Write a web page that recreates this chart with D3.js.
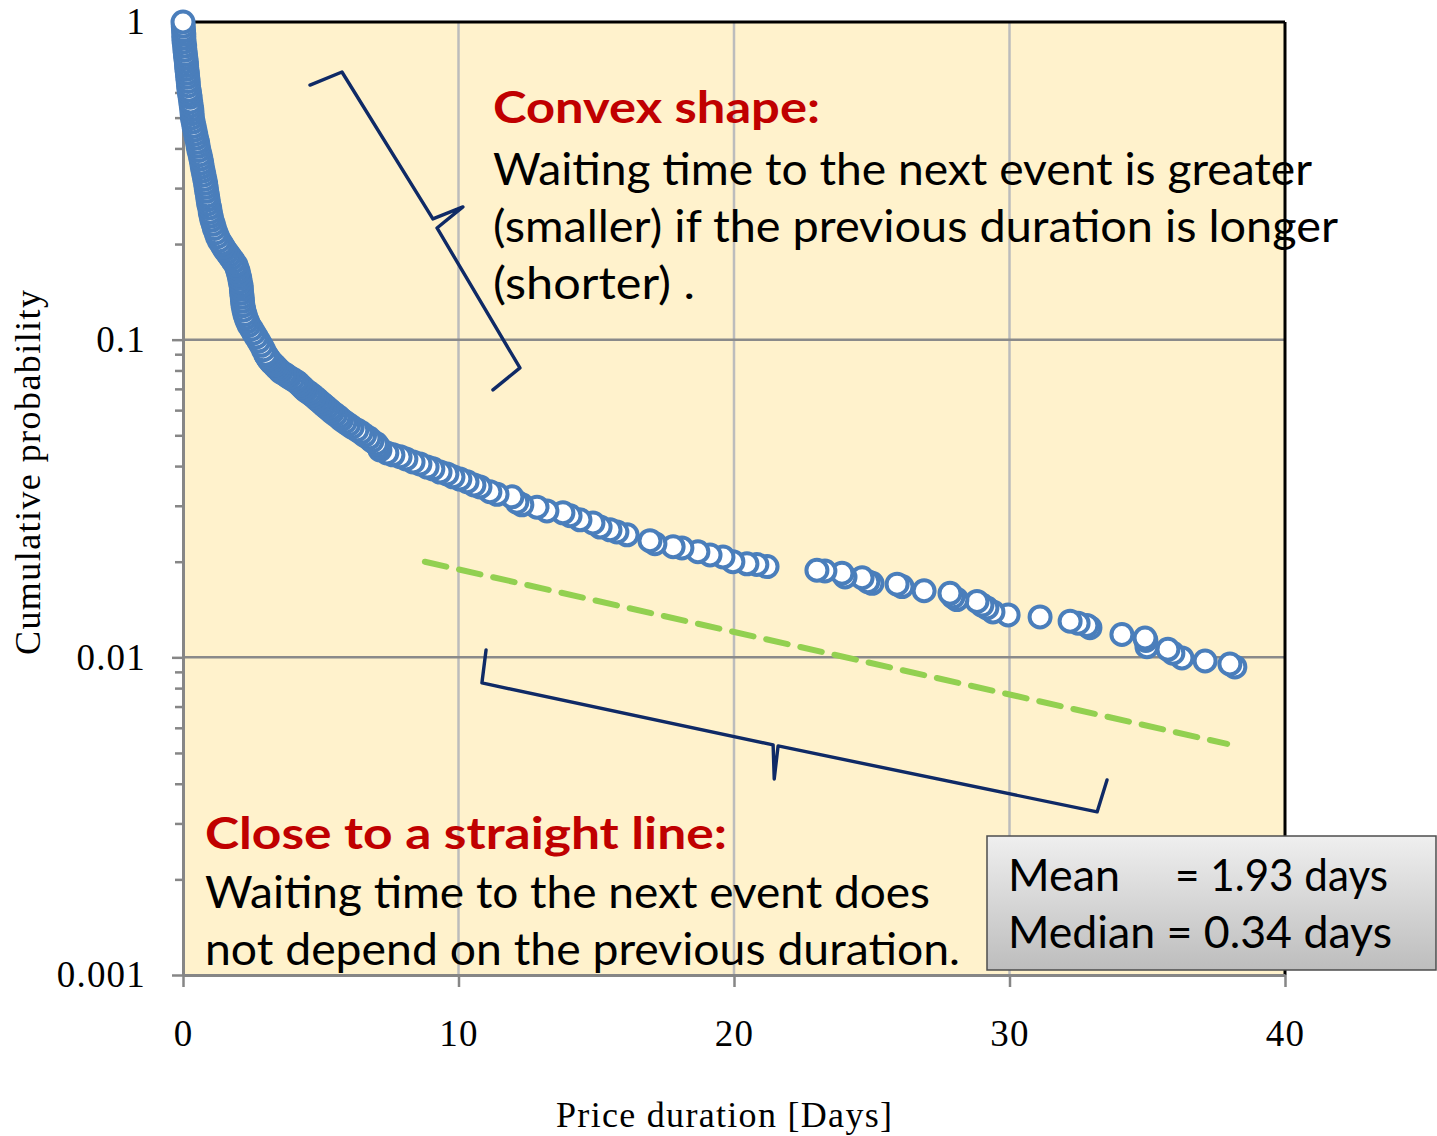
<!DOCTYPE html>
<html><head><meta charset="utf-8">
<script src="https://cdn.jsdelivr.net/npm/d3@7/dist/d3.min.js"></script>
<style>body{margin:0;background:#fff;} svg{display:block;}</style>
</head><body>
<svg id="c" width="1437" height="1136"></svg>
<script>
// ---- data ----
const durations = [
0.00,0.01,0.02,0.03,0.03,0.04,0.06,0.07,0.09,0.10,0.12,0.13,0.14,0.16,0.17,0.19,0.20,0.22,0.24,0.26,
0.28,0.30,0.32,0.33,0.34,0.37,0.40,0.43,0.46,0.49,0.53,0.55,0.58,0.62,0.65,0.68,0.70,0.73,0.76,0.79,
0.82,0.84,0.86,0.89,0.91,0.93,0.97,0.99,1.02,1.05,1.10,1.14,1.20,1.25,1.32,1.40,1.46,1.52,1.60,1.68,
1.76,1.84,1.92,1.96,2.00,2.03,2.06,2.08,2.11,2.12,2.13,2.15,2.16,2.18,2.21,2.25,2.29,2.34,2.40,2.49,
2.57,2.66,2.75,2.84,2.92,3.00,3.03,3.07,3.11,3.15,3.20,3.26,3.32,3.38,3.44,3.50,3.56,3.68,3.77,3.86,
3.98,4.09,4.18,4.25,4.32,4.39,4.47,4.58,4.68,4.77,4.86,4.95,5.04,5.13,5.23,5.33,5.42,5.54,5.66,5.75,
5.88,6.01,6.14,6.31,6.46,6.59,6.75,6.86,7.02,7.10,7.15,7.40,7.62,7.88,8.09,8.35,8.60,8.86,9.07,9.33,
9.58,9.80,10.05,10.31,10.56,10.78,11.14,11.40,11.94,12.12,12.30,12.85,13.21,13.79,14.05,14.41,14.88,15.14,15.50,15.75,
16.12,16.95,17.13,17.79,18.11,18.69,19.13,19.60,19.96,20.47,20.83,21.20,23.01,23.30,23.92,24.03,24.65,24.86,25.01,25.92,
26.10,26.90,27.84,27.95,28.09,28.82,29.00,29.18,29.40,29.95,31.11,32.20,32.49,32.81,32.92,34.08,34.92,34.95,34.99,35.75,
35.93,36.26,37.10,38.00,38.18
];
const probabilities = [
1.000,0.970,0.940,0.915,0.890,0.865,0.840,0.815,0.790,0.770,0.750,0.730,0.710,0.690,0.670,0.650,0.630,0.610,0.595,0.580,
0.560,0.545,0.530,0.515,0.500,0.485,0.470,0.457,0.444,0.431,0.418,0.406,0.394,0.382,0.371,0.360,0.350,0.340,0.330,0.320,
0.311,0.302,0.293,0.284,0.276,0.268,0.260,0.252,0.245,0.238,0.231,0.224,0.217,0.211,0.205,0.200,0.196,0.192,0.188,0.184,
0.180,0.176,0.172,0.168,0.164,0.160,0.156,0.152,0.148,0.144,0.140,0.136,0.132,0.128,0.124,0.120,0.117,0.114,0.111,0.108,
0.105,0.102,0.099,0.096,0.093,0.090,0.089,0.088,0.087,0.086,0.085,0.084,0.083,0.082,0.081,0.080,0.079,0.078,0.077,0.076,
0.075,0.074,0.073,0.072,0.071,0.070,0.069,0.068,0.067,0.066,0.065,0.064,0.063,0.062,0.061,0.060,0.059,0.058,0.057,0.056,
0.055,0.054,0.053,0.052,0.051,0.050,0.049,0.048,0.047,0.046,0.0450,0.0440,0.0434,0.0428,0.0421,0.0412,0.0406,0.0397,0.0392,0.0383,
0.0378,0.0370,0.0364,0.0357,0.0349,0.0344,0.0332,0.0326,0.0320,0.0308,0.0302,0.0297,0.0289,0.0285,0.0279,0.0271,0.0265,0.0257,0.0252,0.0248,
0.0243,0.0233,0.0228,0.0223,0.0221,0.0215,0.0210,0.0207,0.0200,0.0197,0.0196,0.0193,0.0188,0.0187,0.0184,0.0179,0.0178,0.0173,0.0171,0.0170,
0.0167,0.0162,0.0159,0.0155,0.0152,0.0150,0.0146,0.0143,0.0139,0.0136,0.0134,0.0130,0.0128,0.0126,0.0124,0.0118,0.0115,0.0113,0.0108,0.0106,
0.0103,0.00996,0.00974,0.00953,0.00933
];
const xTicks = [0, 10, 20, 30, 40];
const xTickLabels = ["0", "10", "20", "30", "40"];
const yTicks = [1, 0.1, 0.01, 0.001];
const yTickLabels = ["1", "0.1", "0.01", "0.001"];
const xGrid = [10, 20, 30];
const yGrid = [0.1, 0.01];
const refLineDurations = [8.78, 37.9];
const refLineProbs = [0.0200, 0.00534];
const braceUpperDurations = [4.61, 5.77, 9.07, 10.16, 9.22, 12.23, 11.25];
const braceUpperProbs = [0.633, 0.696, 0.240, 0.2617, 0.2247, 0.0815, 0.0695];
const braceLowerDurations = [11.00, 10.85, 21.42, 21.46, 21.60, 33.18, 33.54];
const braceLowerProbs = [0.01055, 0.008306, 0.00530, 0.004142, 0.005261, 0.003262, 0.004113];
const xTitle = "Price duration [Days]";
const yTitle = "Cumulative probability";
const convexTitle = "Convex shape:";
const convexLines = ["Waiting time to the next event is greater", "(smaller) if the previous duration is longer", "(shorter) ."];
const straightTitle = "Close to a straight line:";
const straightLines = ["Waiting time to the next event does", "not depend on the previous duration."];
const statNames = ["Mean", "Median"];
const statValues = ["= 1.93 days", "= 0.34 days"];

// ---- chart ----
const svg = d3.select("#c");
const x = d3.scaleLinear().domain([0, 40]).range([183, 1285]);
const y = d3.scaleLog().domain([0.001, 1]).range([975, 22]);
const serif = "'Liberation Serif','Times New Roman',serif";
const sans = "Lato,'Open Sans',sans-serif";
const axisGray = "#868686";

svg.append("rect").attr("x", x(0)).attr("y", y(1))
  .attr("width", x(40) - x(0)).attr("height", y(0.001) - y(1)).attr("fill", "#fff2cc");

// gridlines
svg.append("g").selectAll("line").data(xGrid).join("line")
  .attr("x1", d => x(d)).attr("x2", d => x(d)).attr("y1", y(1)).attr("y2", y(0.001))
  .attr("stroke", "#bcbcbc").attr("stroke-width", 2.5);
svg.append("g").selectAll("line").data(yGrid).join("line")
  .attr("x1", x(0)).attr("x2", x(40)).attr("y1", d => y(d)).attr("y2", d => y(d))
  .attr("stroke", "#8a8a8a").attr("stroke-width", 2.5);

// top & right border
svg.append("line").attr("x1", x(0)).attr("x2", x(40)).attr("y1", y(1)).attr("y2", y(1))
  .attr("stroke", "#000").attr("stroke-width", 3);
svg.append("line").attr("x1", x(40)).attr("x2", x(40)).attr("y1", y(1)).attr("y2", y(0.001))
  .attr("stroke", "#000").attr("stroke-width", 3);

// minor y ticks
const minors = [];
[0.001, 0.01, 0.1].forEach(dec => { for (let k = 2; k <= 9; k++) minors.push(k * dec); });
const gMinor = svg.append("g").attr("transform", `translate(${x(0)},0)`)
  .call(d3.axisLeft(y).tickValues(minors).tickSize(8).tickFormat(""));
gMinor.select(".domain").remove();
gMinor.selectAll("line").attr("stroke", axisGray).attr("stroke-width", 2.5);

// y axis
const gy = svg.append("g").attr("transform", `translate(${x(0)},0)`)
  .call(d3.axisLeft(y).tickValues(yTicks).tickFormat((d, i) => yTickLabels[i])
    .tickSize(11).tickPadding(26).tickSizeOuter(0));
gy.select(".domain").attr("stroke", axisGray).attr("stroke-width", 3);
gy.selectAll("line").attr("stroke", axisGray).attr("stroke-width", 2.5);
gy.selectAll("text").attr("font-family", serif).attr("font-size", 37)
  .attr("letter-spacing", 1.2).attr("fill", "#000");

// x axis
const gx = svg.append("g").attr("transform", `translate(0,${y(0.001)})`)
  .call(d3.axisBottom(x).tickValues(xTicks).tickFormat((d, i) => xTickLabels[i])
    .tickSize(12).tickPadding(33).tickSizeOuter(0));
gx.select(".domain").attr("stroke", axisGray).attr("stroke-width", 3);
gx.selectAll("line").attr("stroke", axisGray).attr("stroke-width", 2.5);
gx.selectAll("text").attr("font-family", serif).attr("font-size", 37)
  .attr("letter-spacing", 1.2).attr("fill", "#000");

// axis titles
svg.append("text").attr("x", 556).attr("y", 1127)
  .attr("font-family", serif).attr("font-size", 36)
  .attr("textLength", 336).attr("lengthAdjust", "spacing").text(xTitle);
svg.append("text").attr("transform", "translate(40,655) rotate(-90)")
  .attr("font-family", serif).attr("font-size", 36)
  .attr("textLength", 365).attr("lengthAdjust", "spacing").text(yTitle);

// reference dashed line
const refPts = refLineDurations.map((d, i) => [d, refLineProbs[i]]);
svg.append("path").datum(refPts)
  .attr("d", d3.line().x(d => x(d[0])).y(d => y(d[1])))
  .attr("fill", "none").attr("stroke", "#92d050").attr("stroke-width", 6)
  .attr("stroke-dasharray", "22,13").attr("stroke-linecap", "round");

// braces
function brace(ds, ps) {
  const pts = ds.map((d, i) => [d, ps[i]]);
  svg.append("path").datum(pts)
    .attr("d", d3.line().x(d => x(d[0])).y(d => y(d[1])))
    .attr("fill", "none").attr("stroke", "#0f2a66").attr("stroke-width", 3.4)
    .attr("stroke-linejoin", "round").attr("stroke-linecap", "round");
}
brace(braceUpperDurations, braceUpperProbs);
brace(braceLowerDurations, braceLowerProbs);

// points (drawn from longest duration to shortest)
const pts = durations.map((d, i) => ({ d, p: probabilities[i] })).reverse();
svg.append("g").selectAll("circle").data(pts).join("circle")
  .attr("cx", d => x(d.d)).attr("cy", d => y(d.p)).attr("r", 10.5)
  .attr("fill", "#fff").attr("stroke", "#4a7ebb").attr("stroke-width", 4);

// annotation texts
function fitText(sel, w) { sel.attr("textLength", w).attr("lengthAdjust", "spacingAndGlyphs"); }
const red = "#c00000";
fitText(svg.append("text").attr("x", 493).attr("y", 123).attr("font-family", sans)
  .attr("font-weight", "bold").attr("font-size", 44).attr("fill", red).text(convexTitle), 327);
const convexW = [819, 845, 202], convexY = [185, 242, 299];
convexLines.forEach((t, i) => fitText(svg.append("text").attr("x", 493).attr("y", convexY[i])
  .attr("font-family", sans).attr("font-size", 44).attr("fill", "#000").text(t), convexW[i]));
fitText(svg.append("text").attr("x", 205).attr("y", 849).attr("font-family", sans)
  .attr("font-weight", "bold").attr("font-size", 44).attr("fill", red).text(straightTitle), 522);
const straightW = [725, 755], straightY = [908, 965];
straightLines.forEach((t, i) => fitText(svg.append("text").attr("x", 205).attr("y", straightY[i])
  .attr("font-family", sans).attr("font-size", 44).attr("fill", "#000").text(t), straightW[i]));

// stats box
const defs = svg.append("defs");
const grad = defs.append("linearGradient").attr("id", "boxg").attr("x1", 0).attr("x2", 0).attr("y1", 0).attr("y2", 1);
grad.append("stop").attr("offset", "0%").attr("stop-color", "#efefef");
grad.append("stop").attr("offset", "100%").attr("stop-color", "#bdbdbd");
svg.append("rect").attr("x", 987).attr("y", 836).attr("width", 449).attr("height", 134)
  .attr("fill", "url(#boxg)").attr("stroke", "#4d4d4d").attr("stroke-width", 1.5);
const statY = [891, 948];
fitText(svg.append("text").attr("x", 1008).attr("y", statY[0]).attr("font-family", sans)
  .attr("font-size", 44).text(statNames[0]), 112);
fitText(svg.append("text").attr("x", 1175).attr("y", statY[0]).attr("font-family", sans)
  .attr("font-size", 44).text(statValues[0]), 213);
fitText(svg.append("text").attr("x", 1008).attr("y", statY[1]).attr("font-family", sans)
  .attr("font-size", 44).text(statNames[1] + " " + statValues[1]), 384);
</script>
</body></html>
